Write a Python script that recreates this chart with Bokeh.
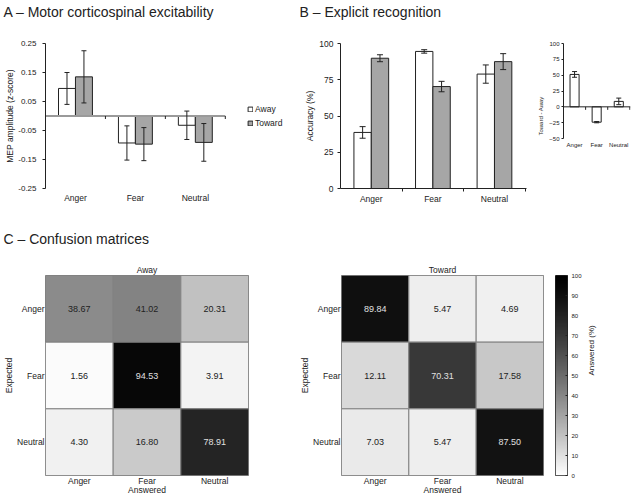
import numpy as np
from math import pi
from bokeh.plotting import figure
from bokeh.layouts import column, row
from bokeh.models import (Range1d, FactorRange, FixedTicker, NumeralTickFormatter, Span, Whisker,
                          TeeHead, ColumnDataSource, Legend, LegendItem, Title,
                          LinearColorMapper)
from bokeh.transform import transform
from bokeh.core.properties import value
from bokeh.embed import file_html
from bokeh.resources import INLINE

# ---------------- data ----------------
emotions = ["Anger", "Fear", "Neutral"]

# Panel A: MEP amplitude (z-score)
mep_away = [0.095, -0.093, -0.032]
mep_away_err = [0.055, 0.059, 0.049]
mep_toward = [0.135, -0.097, -0.091]
mep_toward_err = [0.090, 0.057, 0.065]
mep_ticks = [-0.25, -0.15, -0.05, 0.05, 0.15, 0.25]

# Panel B: accuracy (%)
acc_away = [38.67, 94.53, 78.91]
acc_away_err = [4.0, 1.2, 6.3]
acc_toward = [89.84, 70.31, 87.50]
acc_toward_err = [2.4, 3.6, 5.5]
acc_ticks = [0, 25, 50, 75, 100]

# Panel B inset: Toward - Away
diff_vals = [51.17, -24.22, 8.59]
diff_err = [4.5, 1.0, 5.2]
diff_ticks = [-50, -25, 0, 25, 50, 75, 100]

# Panel C: confusion matrices (rows = expected, cols = answered)
conf_away = [[38.67, 41.02, 20.31],
             [1.56, 94.53, 3.91],
             [4.30, 16.80, 78.91]]
conf_toward = [[89.84, 5.47, 4.69],
               [12.11, 70.31, 17.58],
               [7.03, 5.47, 87.50]]
cbar_ticks = [0, 10, 20, 30, 40, 50, 60, 70, 80, 90, 100]

# ---------------- style ----------------
FONT = "Liberation Sans"
INK = "#222222"
BAR_GRAY = "#a6a6a6"
GRID_GRAY = "#808080"

palette = []
for i in range(256):
    g = int(round(255 * (1 - i / 255) ** 1.25))
    palette.append("#%02x%02x%02x" % (g, g, g))
mapper = LinearColorMapper(palette=palette, low=0, high=100)


def base_fig(w, h, l, r, t, b, xr, yr, **kw):
    p = figure(width=w, height=h, x_range=xr, y_range=yr, output_backend="svg",
               toolbar_location=None, min_border_left=l, min_border_right=r,
               min_border_top=t, min_border_bottom=b, title=None, **kw)
    p.grid.visible = False
    p.background_fill_color = "white"
    p.border_fill_color = "white"
    return p


def style_axis(ax, fs="8.5px", lfs="8.5px"):
    ax.axis_line_color = INK
    ax.major_tick_line_color = INK
    ax.minor_tick_line_color = None
    ax.major_tick_in = 0
    ax.minor_tick_in = 0
    ax.minor_tick_out = 0
    ax.major_label_text_font = FONT
    ax.major_label_text_font_size = fs
    ax.major_label_text_color = INK
    ax.axis_label_text_font = FONT
    ax.axis_label_text_font_size = lfs
    ax.axis_label_text_font_style = "normal"
    ax.axis_label_text_color = INK


def no_ticks(ax):
    ax.major_tick_line_color = None
    ax.major_tick_out = 0
    ax.major_tick_in = 0


def add_title(p, text, size, align="left", offset=0, standoff=0):
    p.add_layout(Title(text=text, align=align, offset=offset, standoff=standoff,
                       text_font=FONT, text_font_size=size, text_font_style="normal",
                       text_color=INK), "above")


def add_gap(p, px):
    # blank title used only as vertical spacing between the frame and a panel title
    p.add_layout(Title(text="\u00a0", text_font_size="2px", standoff=px), "above")


def add_whiskers(p, src, base, lo, hi, size):
    p.add_layout(Whisker(source=src, base=base, lower=lo, upper=hi, line_color=INK,
                         line_width=1, level="overlay",
                         upper_head=TeeHead(size=size, line_color=INK, line_width=1),
                         lower_head=TeeHead(size=size, line_color=INK, line_width=1)))


n = len(emotions)
centers = [i + 0.5 for i in range(n)]
seps = [i + 1 for i in range(n)]
label_map = {c: e for c, e in zip(centers, emotions)}

# ---------------- row 1 geometry ----------------
H1, T1, B1 = 222, 43, 34
fh1 = H1 - T1 - B1

# ---------------- Panel A ----------------
AW, AL, AR = 297, 45, 1
afw = AW - AL - AR
a_cat_px = 181  # pixel width of the three categories
a_xend = afw * 3.02 / a_cat_px
pa = base_fig(AW, H1, AL, AR, T1, B1, Range1d(0, a_xend), Range1d(-0.25, 0.25))
pa.outline_line_color = None
bw_a = 0.283
src_a = ColumnDataSource(dict(
    xa=[c - bw_a / 2 for c in centers], xt=[c + bw_a / 2 for c in centers],
    away=mep_away, toward=mep_toward,
    a_lo=[v - e for v, e in zip(mep_away, mep_away_err)],
    a_hi=[v + e for v, e in zip(mep_away, mep_away_err)],
    t_lo=[v - e for v, e in zip(mep_toward, mep_toward_err)],
    t_hi=[v + e for v, e in zip(mep_toward, mep_toward_err)]))
ra = pa.vbar(x="xa", top="away", bottom=0, width=bw_a, source=src_a,
             fill_color="white", line_color=INK, line_width=1)
rt = pa.vbar(x="xt", top="toward", bottom=0, width=bw_a, source=src_a,
             fill_color=BAR_GRAY, line_color=INK, line_width=1)
add_whiskers(pa, src_a, "xa", "a_lo", "a_hi", 5)
add_whiskers(pa, src_a, "xt", "t_lo", "t_hi", 5)
pa.segment(x0=[0], y0=[0], x1=[n], y1=[0], line_color="#9a9a9a", line_width=2)
tl_a = (0.25 - (-0.25)) / fh1 * 3
pa.segment(x0=seps, y0=[0] * n, x1=seps, y1=[-tl_a] * n, line_color=INK, line_width=1)

style_axis(pa.xaxis[0])
no_ticks(pa.xaxis[0])
pa.xaxis.ticker = FixedTicker(ticks=centers)
pa.xaxis.major_label_overrides = label_map
pa.xaxis.axis_line_color = None
pa.xaxis.major_label_standoff = 4
style_axis(pa.yaxis[0], fs="8px")
pa.yaxis.ticker = FixedTicker(ticks=mep_ticks)
pa.yaxis.formatter = NumeralTickFormatter(format="0.00")
pa.yaxis.major_tick_out = 3
pa.yaxis.major_label_standoff = 6
pa.yaxis.axis_label = "MEP amplitude (z-score)"
pa.yaxis.axis_label_standoff = 0

leg = Legend(items=[LegendItem(label="Away", renderers=[ra]),
                    LegendItem(label="Toward", renderers=[rt])],
             location=(202, 60), orientation="vertical", glyph_width=6, glyph_height=6,
             label_standoff=2, label_text_font=FONT, label_text_font_size="8.5px",
             label_text_color=INK, label_height=9, label_width=20, spacing=4,
             padding=0, margin=0, border_line_color=None, background_fill_alpha=0)
pa.add_layout(leg)
add_gap(pa, 20)
add_title(pa, "A \u2013 Motor corticospinal excitability", "14px", offset=-(AL - 3))

# ---------------- Panel B ----------------
BW_, BL, BR = 238, 43, 9
pb = base_fig(BW_, H1, BL, BR, T1, B1, Range1d(0, 3.02), Range1d(0, 100))
pb.outline_line_color = None
bw_b = 0.282
src_b = ColumnDataSource(dict(
    xa=[c - bw_b / 2 for c in centers], xt=[c + bw_b / 2 for c in centers],
    away=acc_away, toward=acc_toward,
    a_lo=[v - e for v, e in zip(acc_away, acc_away_err)],
    a_hi=[v + e for v, e in zip(acc_away, acc_away_err)],
    t_lo=[v - e for v, e in zip(acc_toward, acc_toward_err)],
    t_hi=[v + e for v, e in zip(acc_toward, acc_toward_err)]))
pb.vbar(x="xa", top="away", bottom=0, width=bw_b, source=src_b,
        fill_color="white", line_color=INK, line_width=1)
pb.vbar(x="xt", top="toward", bottom=0, width=bw_b, source=src_b,
        fill_color=BAR_GRAY, line_color=INK, line_width=1)
add_whiskers(pb, src_b, "xa", "a_lo", "a_hi", 6)
add_whiskers(pb, src_b, "xt", "t_lo", "t_hi", 6)

style_axis(pb.xaxis[0])
no_ticks(pb.xaxis[0])
pb.xaxis.ticker = FixedTicker(ticks=centers, minor_ticks=seps)
pb.xaxis.major_label_overrides = label_map
pb.xaxis.minor_tick_line_color = INK
pb.xaxis.minor_tick_out = 3
pb.xaxis.major_label_standoff = 2
style_axis(pb.yaxis[0])
pb.yaxis.ticker = FixedTicker(ticks=acc_ticks)
pb.yaxis.major_tick_out = 3
pb.yaxis.major_label_standoff = 4
pb.yaxis.axis_label = "Accuracy (%)"
pb.yaxis.axis_label_standoff = 1
add_gap(pb, 20)
add_title(pb, "B \u2013 Explicit recognition", "14px", offset=-(BL - 2))

# ---------------- Panel B inset ----------------
IW, IL, IR = 96, 28, 1
inset_px = 95  # pixel height of the -50..100 span
i_top = diff_ticks[-1]
i_bot = i_top - (diff_ticks[-1] - diff_ticks[0]) / inset_px * fh1
pi_ = base_fig(IW, H1, IL, IR, T1, B1, Range1d(0, 3.03), Range1d(i_bot, i_top))
pi_.outline_line_color = None
bw_i = 0.41
src_i = ColumnDataSource(dict(
    x=centers, d=diff_vals,
    lo=[v - e for v, e in zip(diff_vals, diff_err)],
    hi=[v + e for v, e in zip(diff_vals, diff_err)]))
pi_.vbar(x="x", top="d", bottom=0, width=bw_i, source=src_i,
         fill_color="white", line_color=INK, line_width=1)
add_whiskers(pi_, src_i, "x", "lo", "hi", 5)
pi_.add_layout(Span(location=0, dimension="width", line_color=INK, line_width=1))
tl_i = (diff_ticks[-1] - diff_ticks[0]) / inset_px * 3
pi_.segment(x0=seps, y0=[0] * n, x1=seps, y1=[-tl_i] * n, line_color=INK, line_width=1)
style_axis(pi_.xaxis[0], fs="6px", lfs="6px")
no_ticks(pi_.xaxis[0])
pi_.xaxis.ticker = FixedTicker(ticks=centers)
pi_.xaxis.major_label_overrides = label_map
pi_.xaxis.axis_line_color = None
pi_.xaxis.fixed_location = diff_ticks[0]
pi_.xaxis.major_label_standoff = 3
style_axis(pi_.yaxis[0], fs="6px", lfs="6px")
pi_.yaxis.ticker = FixedTicker(ticks=diff_ticks)
pi_.yaxis.bounds = (diff_ticks[0], diff_ticks[-1])
pi_.yaxis.major_tick_out = 2
pi_.yaxis.major_label_standoff = 2
pi_.yaxis.axis_label = "Toward - Away"
pi_.yaxis.axis_label_standoff = 2

# ---------------- Panel C ----------------
H2, T2, B2 = 275, 53, 19
fh2 = H2 - T2 - B2


def matrix_fig(w, l, r, title, mat):
    p = base_fig(w, H2, l, r, T2, B2, FactorRange(*emotions),
                 FactorRange(*list(reversed(emotions))))
    ans, exp, vals, labels, tcols = [], [], [], [], []
    for i, e in enumerate(emotions):
        for j, a in enumerate(emotions):
            v = mat[i][j]
            ans.append(a)
            exp.append(e)
            vals.append(v)
            labels.append("%.2f" % v)
            tcols.append("#e0e0e0" if v > 50 else INK)
    src = ColumnDataSource(dict(ans=ans, exp=exp, val=vals, label=labels, tcol=tcols))
    p.rect(x="ans", y="exp", width=1, height=1, source=src,
           fill_color=transform("val", mapper), line_color=GRID_GRAY, line_width=1)
    p.text(x="ans", y="exp", text="label", source=src, text_color="tcol",
           text_align="center", text_baseline="middle",
           text_font=value(FONT), text_font_size=value("9px"))
    p.outline_line_color = GRID_GRAY
    p.outline_line_width = 1
    for ax in (p.xaxis[0], p.yaxis[0]):
        style_axis(ax)
        no_ticks(ax)
        ax.axis_line_color = None
    p.xaxis.major_label_standoff = 0
    p.xaxis.axis_label = "Answered"
    p.xaxis.axis_label_standoff = -4
    p.yaxis.major_label_standoff = 1
    p.yaxis.axis_label = "Expected"
    p.yaxis.axis_label_standoff = 0
    add_title(p, title, "8.5px", align="center", standoff=1)
    return p


ML_W, ML_L, ML_R = 297, 45, 49
pm1 = matrix_fig(ML_W, ML_L, ML_R, "Away", conf_away)
add_gap(pm1, 12)
add_title(pm1, "C \u2013 Confusion matrices", "14px", offset=-(ML_L - 3))
MR_W, MR_L, MR_R = 258, 43, 12
pm2 = matrix_fig(MR_W, MR_L, MR_R, "Toward", conf_toward)

# colour bar
CW, CL, CR = 76, 0, 64
pc = base_fig(CW, H2, CL, CR, T2, B2, Range1d(0, 1), Range1d(0, 100),
              x_axis_location=None, y_axis_location="right")
grad = np.linspace(0, 100, 256).reshape(-1, 1)
pc.image(image=[grad], x=0, y=0, dw=1, dh=100, color_mapper=mapper)
pc.outline_line_color = INK
pc.outline_line_width = 1
cax = pc.yaxis[0]
style_axis(cax, fs="6px", lfs="8px")
cax.ticker = FixedTicker(ticks=cbar_ticks)
cax.axis_line_color = None
cax.major_tick_in = 2
cax.major_tick_out = 0
cax.major_label_standoff = 4
cax.axis_label = "Answered (%)"
cax.axis_label_standoff = 7
if "axis_label_orientation" in cax.properties():
    cax.axis_label_orientation = pi / 2

layout = column(row(pa, pb, pi_), row(pm1, pm2, pc))
open("out.html", "w").write(file_html(layout, INLINE, "Figure"))
